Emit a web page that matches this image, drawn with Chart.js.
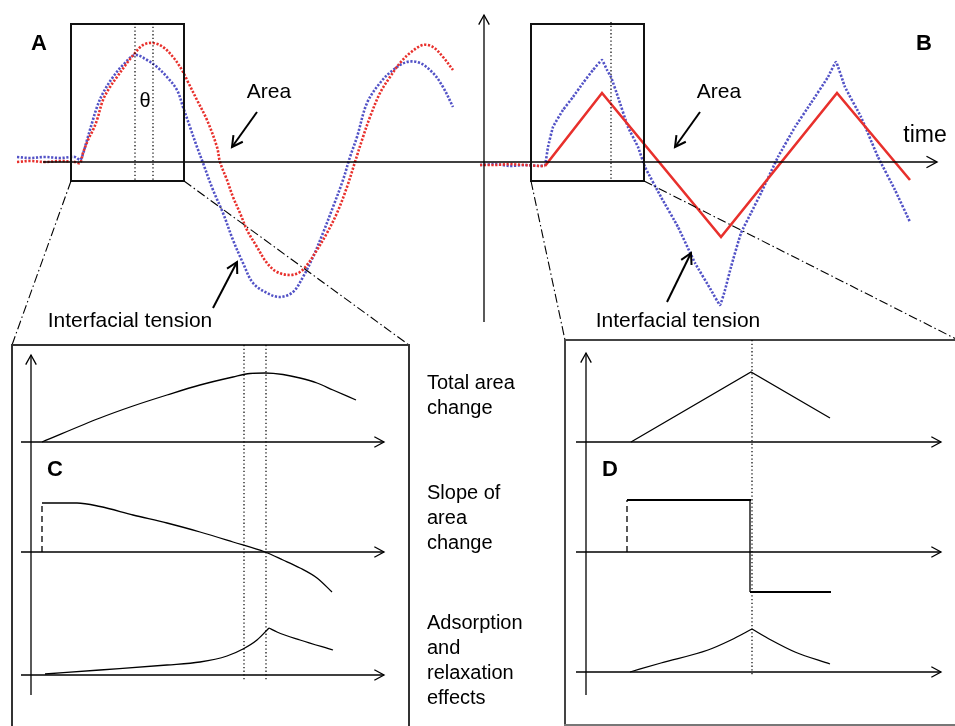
<!DOCTYPE html>
<html><head><meta charset="utf-8">
<script src="https://cdn.jsdelivr.net/npm/chart.js@4/dist/chart.umd.min.js"></script>
<style>html,body{margin:0;padding:0;background:#fff;overflow:hidden}canvas{display:block}</style>
</head><body>
<canvas id="c" width="955" height="726"></canvas>
<script>
// ===== DATA: [time, value] pairs =====
// Panel A – sinusoidal area oscillation (red) and interfacial tension response (blue)
const areaA = [[-2.52,0],[-2.0,0.01],[-1.4,0],[-0.8,0.01],[-0.2,0],[0,-0.01],[0.12,0.09],[0.32,0.22],[0.52,0.32],[0.68,0.42],[0.92,0.62],[1.2,0.75],[1.48,0.85],[1.88,0.99],[2.2,1.09],[2.52,1.17],[2.92,1.19],[3.32,1.15],[3.72,1.05],[4.08,0.92],[4.32,0.80],[4.68,0.62],[5.08,0.42],[5.48,0.15],[5.6,0],[5.88,-0.18],[6.12,-0.35],[6.4,-0.51],[6.68,-0.68],[7.08,-0.85],[7.48,-1.01],[7.88,-1.10],[8.4,-1.13],[8.8,-1.10],[9.08,-1.03],[9.48,-0.88],[9.88,-0.71],[10.28,-0.51],[10.68,-0.25],[11.0,0],[11.32,0.25],[11.6,0.45],[12.0,0.69],[12.4,0.85],[12.8,0.99],[13.2,1.09],[13.72,1.17],[14.12,1.15],[14.52,1.05],[14.92,0.92]];
const tensionA = [[-2.52,0.05],[-2.0,0.04],[-1.4,0.05],[-0.8,0.04],[-0.2,0.05],[0,0.02],[0.08,0.05],[0.28,0.22],[0.48,0.39],[0.68,0.55],[0.92,0.69],[1.32,0.85],[1.72,0.97],[2.2,1.07],[2.68,1.02],[3.08,0.95],[3.48,0.85],[3.88,0.72],[4.12,0.55],[4.4,0.35],[4.68,0.15],[4.92,-0.01],[5.32,-0.28],[5.72,-0.51],[6.12,-0.78],[6.52,-1.01],[6.92,-1.21],[7.48,-1.31],[8.0,-1.35],[8.52,-1.30],[8.92,-1.15],[9.32,-0.95],[9.72,-0.71],[10.12,-0.45],[10.52,-0.18],[10.8,0.05],[11.08,0.25],[11.48,0.59],[12.0,0.79],[12.52,0.92],[13.08,1.00],[13.6,0.99],[14.12,0.89],[14.52,0.75],[14.92,0.55]];
// Panel B – triangular area oscillation (red) and tension response (blue)
const areaB = [[-2.6,-0.03],[-2.0,-0.03],[-1.4,-0.02],[-0.8,-0.03],[-0.2,-0.04],[0,-0.04],[2.28,0.69],[7.04,-0.75],[11.68,0.69],[14.6,-0.18]];
const tensionB = [[-2.6,-0.03],[-2.0,-0.02],[-1.4,-0.04],[-0.8,-0.03],[-0.2,-0.04],[0,-0.03],[0.12,0.15],[0.32,0.35],[0.72,0.52],[1.12,0.65],[1.52,0.79],[1.92,0.92],[2.28,1.02],[2.48,0.92],[2.64,0.85],[2.92,0.65],[3.32,0.35],[3.72,0.15],[4.0,-0.05],[4.64,-0.35],[5.32,-0.65],[6.0,-1.01],[6.64,-1.28],[7.0,-1.43],[7.2,-1.28],[7.44,-1.05],[7.84,-0.71],[8.24,-0.51],[8.64,-0.31],[9.32,0.05],[10.0,0.35],[10.64,0.59],[11.32,0.85],[11.64,1.00],[12.0,0.75],[12.64,0.45],[13.32,0.05],[14.0,-0.28],[14.6,-0.60]];
// Panel C – schematic for the sinusoidal case
const totalAreaC = [[0,0],[0.58,0.24],[0.91,0.36],[1.25,0.47],[1.58,0.57],[1.91,0.65],[2.08,0.685],[2.23,0.69],[2.41,0.675],[2.58,0.64],[2.75,0.59],[2.91,0.52],[3.14,0.42]];
const slopeStepC = [[0,0],[0,0.49]];
const slopeC = [[0,0.49],[0.35,0.49],[0.58,0.455],[0.91,0.37],[1.25,0.29],[1.58,0.20],[1.91,0.10],[2.23,0],[2.41,-0.08],[2.58,-0.16],[2.75,-0.26],[2.9,-0.40]];
const adsorptionC = [[0.03,0.01],[0.58,0.05],[1.25,0.10],[1.58,0.13],[1.85,0.19],[2.01,0.26],[2.15,0.35],[2.27,0.47]];
const relaxationC = [[2.27,0.47],[2.35,0.43],[2.58,0.35],[2.91,0.25]];
// Panel D – schematic for the triangular case
const totalAreaD = [[0,0],[1.2,0.70],[1.99,0.24]];
const slopeD = [[-0.04,0],[-0.04,0.52],[1.2,0.52],[1.19,0.52],[1.19,-0.40],[2.0,-0.40]];
const adsorptionD = [[-0.01,0],[0.3,0.09],[0.77,0.22],[1.0,0.32],[1.21,0.43]];
const relaxationD = [[1.21,0.43],[1.4,0.32],[1.64,0.20],[1.99,0.08]];
// Row captions between panels C and D
const rowLabels = [["Total area","change"],["Slope of","area","change"],["Adsorption","and","relaxation","effects"]];

// ===== LAYOUT (page pixels) =====
const W = 955, H = 726;
const LAYOUT = {
  xA:{origin:80, ppu:25}, xB:{origin:545, ppu:25}, xC:{origin:42, ppu:100}, xD:{origin:631, ppu:100},
  yT:{origin:162, ppu:100},
  yC1:{origin:442, ppu:100}, yC2:{origin:552, ppu:100}, yC3:{origin:675, ppu:100},
  yD1:{origin:442, ppu:100}, yD2:{origin:552, ppu:100}, yD3:{origin:672, ppu:100}
};
const scales = {};
for (const [id, L] of Object.entries(LAYOUT)) {
  const isX = id[0] === 'x';
  const range = isX ? {min: -L.origin/L.ppu, max: (W-L.origin)/L.ppu}
                    : {min: (L.origin-H)/L.ppu, max: L.origin/L.ppu};
  scales[id] = Object.assign({type:'linear', axis: isX?'x':'y', position: isX?'bottom':'left', display:false, bounds:'data', grace:0, offset:false}, range);
}

const RED = '#e8302c', BLUE = '#5252c6', INK = '#000';
const FONT = '"Liberation Sans", Arial, sans-serif';

function dotted(data, color, x, y, tension) {
  return {data, xAxisID:x, yAxisID:y, showLine:true, pointRadius:0, borderColor:color, borderWidth:2.6,
          borderDash:[2.2,1.6], borderCapStyle:'butt', tension: tension, fill:false};
}
function solid(data, x, y, smooth, width) {
  const d = {data, xAxisID:x, yAxisID:y, showLine:true, pointRadius:0, borderColor:INK, borderWidth:width||1.3,
          tension:0, fill:false};
  if (smooth) d.cubicInterpolationMode = 'monotone';
  return d;
}
const toXY = arr => arr.map(p => ({x:p[0], y:p[1]}));

const isVertical = ctx => Math.abs(ctx.p0.parsed.x - ctx.p1.parsed.x) < 1e-9;
const datasets = [
  dotted(toXY(areaA), RED, 'xA', 'yT', 0.35),
  dotted(toXY(tensionA), BLUE, 'xA', 'yT', 0.35),
  Object.assign(dotted(toXY(areaB), RED, 'xB', 'yT', 0), {
    borderDash:[], borderWidth:2.6,
    segment:{borderDash: ctx => ctx.p1.parsed.x <= 0 ? [2.2,1.6] : []}
  }),
  dotted(toXY(tensionB), BLUE, 'xB', 'yT', 0.1),
  solid(toXY(totalAreaC), 'xC', 'yC1', true),
  Object.assign(solid(toXY(slopeStepC), 'xC', 'yC2', false), {borderDash:[6,4]}),
  solid(toXY(slopeC), 'xC', 'yC2', true),
  solid(toXY(adsorptionC), 'xC', 'yC3', true),
  solid(toXY(relaxationC), 'xC', 'yC3', true),
  solid(toXY(totalAreaD), 'xD', 'yD1', false),
  Object.assign(solid(toXY(slopeD), 'xD', 'yD2', false, 2.2), {
    segment:{
      borderDash: ctx => isVertical(ctx) ? [6,4] : [],
      borderWidth: ctx => isVertical(ctx) ? 1.3 : 2.2
    }
  }),
  solid(toXY(adsorptionD), 'xD', 'yD3', true),
  solid(toXY(relaxationD), 'xD', 'yD3', true)
];

// ===== decorations =====
function line(ctx, x1, y1, x2, y2, w, dash, color) {
  ctx.save(); ctx.beginPath(); ctx.lineWidth = w || 1.3; ctx.strokeStyle = color || INK;
  ctx.setLineDash(dash || []); ctx.moveTo(x1, y1); ctx.lineTo(x2, y2); ctx.stroke(); ctx.restore();
}
function arrow(ctx, x1, y1, x2, y2, w, head) {
  line(ctx, x1, y1, x2, y2, w);
  const a = Math.atan2(y2 - y1, x2 - x1), h = head || 10, s = 0.5;
  ctx.save(); ctx.beginPath(); ctx.lineWidth = w || 1.3; ctx.strokeStyle = INK; ctx.lineJoin = 'miter';
  ctx.moveTo(x2 - h*Math.cos(a - s), y2 - h*Math.sin(a - s));
  ctx.lineTo(x2, y2);
  ctx.lineTo(x2 - h*Math.cos(a + s), y2 - h*Math.sin(a + s));
  ctx.stroke(); ctx.restore();
}
function text(ctx, s, x, y, size, bold, align) {
  ctx.save(); ctx.fillStyle = INK; ctx.font = (bold ? 'bold ' : '') + size + 'px ' + FONT;
  ctx.textAlign = align || 'center'; ctx.textBaseline = 'middle'; ctx.fillText(s, x, y); ctx.restore();
}
const DOT = [1.3, 2.4], DASHDOT = [9, 3, 1.5, 3];

const decor = {
  id:'decor',
  afterDatasetsDraw(chart) {
    const ctx = chart.ctx, S = chart.scales;
    const y0 = id => S[id].getPixelForValue(0);
    // top axes
    arrow(ctx, 43, y0('yT'), 937, y0('yT'), 1.4, 12);
    arrow(ctx, 484, 322, 484, 15, 1.3, 11);
    // zoom boxes
    ctx.save(); ctx.lineWidth = 2; ctx.strokeStyle = '#111';
    ctx.strokeRect(71, 24, 113, 157); ctx.strokeRect(531, 24, 113, 157); ctx.restore();
    line(ctx, 135, 23, 135, 181, 1.2, DOT); line(ctx, 153, 23, 153, 181, 1.2, DOT);
    line(ctx, 611, 22, 611, 181, 1.2, DOT);
    text(ctx, 'θ', 145, 101, 20);
    text(ctx, 'A', 39, 44, 22, true); text(ctx, 'B', 924, 44, 22, true);
    text(ctx, 'Area', 269, 92, 21); text(ctx, 'Area', 719, 92, 21);
    arrow(ctx, 257, 112, 232, 147, 2, 12); arrow(ctx, 700, 112, 675, 147, 2, 12);
    arrow(ctx, 213, 308, 237, 262, 2, 12); arrow(ctx, 667, 302, 691, 253, 2, 12);
    text(ctx, 'Interfacial tension', 130, 321, 21); text(ctx, 'Interfacial tension', 678, 321, 21);
    text(ctx, 'time', 925, 136, 23);
    // connectors
    line(ctx, 71, 181, 12, 345, 1.1, DASHDOT); line(ctx, 184, 181, 409, 345, 1.1, DASHDOT);
    line(ctx, 531, 181, 565, 340, 1.1, DASHDOT); line(ctx, 644, 181, 962, 342, 1.1, DASHDOT);
    // frames
    line(ctx, 12, 345, 12, 730, 2, null, '#333'); line(ctx, 11, 345, 410, 345, 2, null, '#333'); line(ctx, 409, 345, 409, 730, 2, null, '#333');
    line(ctx, 565, 339, 565, 726, 2, null, '#444'); line(ctx, 564, 340, 960, 340, 2, null, '#444'); line(ctx, 564, 725, 960, 725, 2, null, '#777');
    // panel C axes
    arrow(ctx, 31, 695, 31, 355, 1.3, 11);
    ['yC1','yC2','yC3'].forEach(id => arrow(ctx, 21, y0(id), 384, y0(id), 1.3, 11));
    line(ctx, 244, 345, 244, 680, 1.2, DOT); line(ctx, 266, 345, 266, 680, 1.2, DOT);
    text(ctx, 'C', 55, 470, 22, true);
    // panel D axes
    arrow(ctx, 586, 695, 586, 353, 1.3, 11);
    ['yD1','yD2','yD3'].forEach(id => arrow(ctx, 576, y0(id), 941, y0(id), 1.3, 11));
    line(ctx, 752, 340, 752, 675, 1.2, DOT);
    text(ctx, 'D', 610, 470, 22, true);
    // row captions
    const starts = [383, 493, 623];
    rowLabels.forEach((lines, i) => lines.forEach((s, j) => text(ctx, s, 427, starts[i] + j*25, 20, false, 'left')));
  }
};

new Chart(document.getElementById('c'), {
  type:'scatter',
  data:{datasets},
  options:{
    responsive:false, animation:false, devicePixelRatio:1,
    layout:{padding:0},
    plugins:{legend:{display:false}, tooltip:{enabled:false}, title:{display:false}},
    scales
  },
  plugins:[decor]
});
</script>
</body></html>
